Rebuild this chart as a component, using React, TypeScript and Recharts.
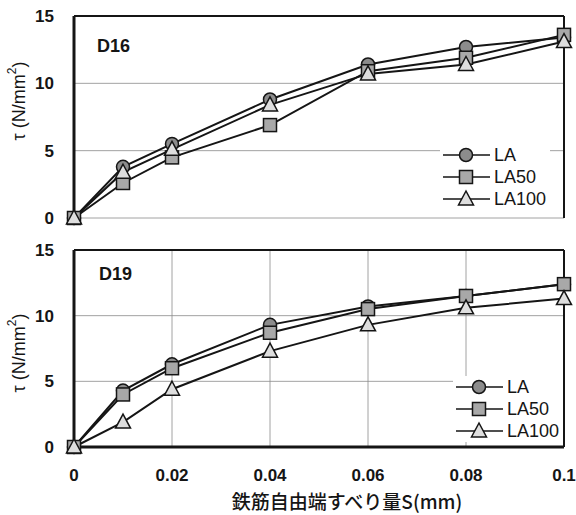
import React from 'react';
import { LineChart, Line, XAxis, YAxis, CartesianGrid, ReferenceLine, Legend } from 'recharts';

const slip = [0, 0.01, 0.02, 0.04, 0.06, 0.08, 0.1];
const xTicks = [0, 0.02, 0.04, 0.06, 0.08, 0.1];
const yTicks = [0, 5, 10, 15];
const seriesNames = ['LA', 'LA50', 'LA100'];

const d16LA = [0, 3.8, 5.5, 8.8, 11.4, 12.7, 13.4];
const d16LA50 = [0, 2.6, 4.5, 6.9, 10.9, 11.9, 13.6];
const d16LA100 = [0, 3.4, 5.1, 8.4, 10.7, 11.4, 13.1];

const d19LA = [0, 4.3, 6.3, 9.3, 10.7, 11.5, 12.4];
const d19LA50 = [0, 4.0, 6.0, 8.7, 10.5, 11.5, 12.4];
const d19LA100 = [0, 1.9, 4.4, 7.3, 9.3, 10.6, 11.3];

const xLabel = '鉄筋自由端すべり量S(mm)';

const buildRows = (a: number[], b: number[], c: number[]) =>
  slip.map((s, i) => ({ s, LA: a[i], LA50: b[i], LA100: c[i] }));

const d16Data = buildRows(d16LA, d16LA50, d16LA100);
const d19Data = buildRows(d19LA, d19LA50, d19LA100);

const FONT = '"Liberation Sans", Arial, sans-serif';
const INK = '#151515';

const drawMarker = (name: string, cx: number, cy: number, key?: any) => {
  if (name === 'LA')
    return <circle key={key} cx={cx} cy={cy} r={6.5} fill="#8c8c8c" stroke={INK} strokeWidth={1.5} />;
  if (name === 'LA50')
    return <rect key={key} x={cx - 6.5} y={cy - 6.5} width={13} height={13} fill="#a8a8a8" stroke={INK} strokeWidth={1.5} />;
  return (
    <polygon
      key={key}
      points={`${cx},${cy - 8} ${cx - 7.5},${cy + 6} ${cx + 7.5},${cy + 6}`}
      fill="#dedede"
      stroke={INK}
      strokeWidth={1.5}
    />
  );
};

const makeDot = (name: string) => (props: any) => {
  const { cx, cy, index } = props;
  if (cx == null || cy == null) return <g key={`${name}-${index}`} />;
  return drawMarker(name, cx, cy, `${name}-${index}`);
};

const LegendContent = () => (
  <div style={{ background: '#fff', fontFamily: FONT, fontSize: 18, color: INK, padding: '0 4px 0 3px' }}>
    {seriesNames.map((n) => (
      <div key={n} style={{ display: 'flex', alignItems: 'center', height: 22 }}>
        <svg width={48} height={20} style={{ display: 'block' }}>
          <line x1={0} y1={10} x2={47} y2={10} stroke={INK} strokeWidth={1.5} />
          {drawMarker(n, 23, 10)}
        </svg>
        <span style={{ marginLeft: 3, lineHeight: '22px' }}>{n}</span>
      </div>
    ))}
  </div>
);

const makeYLabel = (cy: number) => () => (
  <text
    x={19}
    y={cy}
    transform={`rotate(-90 19 ${cy})`}
    textAnchor="middle"
    dominantBaseline="central"
    fontFamily={FONT}
    fontSize={18}
    fill={INK}
  >
    τ (N/mm<tspan dy={-7} fontSize={12}>2</tspan>
    <tspan dy={7}>)</tspan>
  </text>
);

const XLabel = () => (
  <text
    x={347}
    y={268}
    textAnchor="middle"
    dominantBaseline="central"
    fontFamily='"Noto Sans CJK JP", sans-serif'
    fontWeight={500}
    fontSize={19}
    fill={INK}
  >
    {xLabel}
  </text>
);

const tickStyle = { fontFamily: FONT, fontSize: 17, fontWeight: 'bold' as const, fill: INK };

type PanelProps = {
  data: any[];
  name: string;
  height: number;
  margin: any;
  showX: boolean;
  yLabelCy: number;
  legendLeft: number;
  legendTop: number;
  nameX: number;
  nameY: number;
};

function Panel({ data, name, height, margin, showX, yLabelCy, legendLeft, legendTop, nameX, nameY }: PanelProps) {
  return (
    <LineChart width={576} height={height} data={data} margin={margin}>
      <CartesianGrid stroke="#8a8a8a" strokeWidth={0.8} />
      <XAxis
        dataKey="s"
        type="number"
        domain={[0, 0.1]}
        ticks={xTicks}
        tickFormatter={(v: number) => (v === 0 ? '0' : String(Number(v.toFixed(2))))}
        height={showX ? 30 : 0}
        tick={showX ? tickStyle : false}
        tickLine={false}
        tickSize={6}
        tickMargin={16}
        axisLine={{ stroke: INK, strokeWidth: 3 }}
        label={showX ? <XLabel /> : undefined}
      />
      <YAxis
        type="number"
        domain={[0, 15]}
        ticks={yTicks}
        width={40}
        tick={tickStyle}
        tickLine={false}
        tickSize={6}
        tickMargin={14}
        axisLine={{ stroke: INK, strokeWidth: 3 }}
        label={makeYLabel(yLabelCy)}
      />
      <ReferenceLine y={15} stroke={INK} strokeWidth={2} />
      <ReferenceLine x={0.1} stroke={INK} strokeWidth={2} />
      <text x={nameX} y={nameY} dominantBaseline="central" fontFamily={FONT} fontSize={18} fontWeight="bold" fill={INK}>
        {name}
      </text>
      {seriesNames.map((n) => (
        <Line
          key={n}
          dataKey={n}
          name={n}
          stroke={INK}
          strokeWidth={2}
          dot={makeDot(n)}
          activeDot={false}
          isAnimationActive={false}
        />
      ))}
      <Legend
        layout="vertical"
        align="center"
        verticalAlign="middle"
        content={<LegendContent />}
        wrapperStyle={{ left: legendLeft, top: legendTop, width: 'auto', height: 'auto' }}
      />
    </LineChart>
  );
}

export default function App() {
  return (
    <div style={{ position: 'absolute', left: 0, top: 0, width: 576, height: 515, background: '#fff' }}>
      <div style={{ position: 'absolute', left: 0, top: 0 }}>
        <Panel
          data={d16Data}
          name="D16"
          height={240}
          margin={{ top: 16, right: 12, left: 34, bottom: 22 }}
          showX={false}
          yLabelCy={101}
          legendLeft={440}
          legendTop={144}
          nameX={97}
          nameY={46}
        />
      </div>
      <div style={{ position: 'absolute', left: 0, top: 232 }}>
        <Panel
          data={d19Data}
          name="D19"
          height={283}
          margin={{ top: 18, right: 12, left: 34, bottom: 38 }}
          showX={true}
          yLabelCy={121}
          legendLeft={453}
          legendTop={144}
          nameX={99}
          nameY={42}
        />
      </div>
    </div>
  );
}
